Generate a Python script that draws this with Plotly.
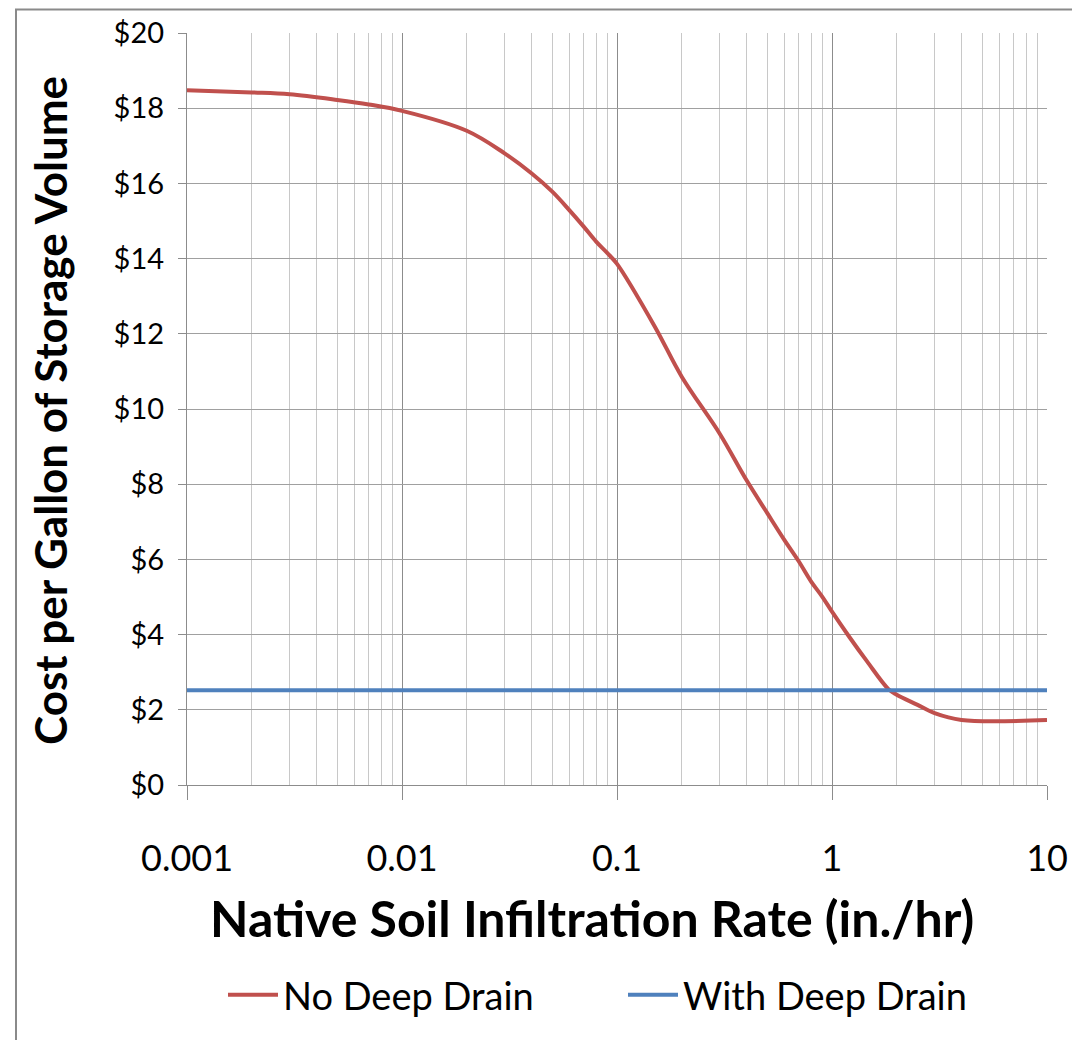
import plotly.graph_objects as go

# Data
infiltration_rate = [0.001, 0.002, 0.003, 0.005, 0.007, 0.01, 0.02, 0.03, 0.04, 0.05, 0.06,
                     0.07, 0.08, 0.09, 0.1, 0.15, 0.2, 0.3, 0.4, 0.5, 0.6, 0.7, 0.8, 0.9, 1.0,
                     1.2, 1.45, 1.83, 2.0, 2.5, 3.0, 4.0, 10.0]
cost_no_deep_drain = [18.48, 18.42, 18.37, 18.22, 18.10, 17.93, 17.40, 16.80, 16.27, 15.78, 15.29,
                      14.85, 14.45, 14.15, 13.86, 12.19, 10.86, 9.35, 8.11, 7.23, 6.52, 5.95, 5.41, 5.01,
                      4.61, 3.95, 3.30, 2.55, 2.40, 2.13, 1.91, 1.73, 1.73]
with_drain_x = [0.001, 10.0]
cost_with_deep_drain = [2.52, 2.52]

x_tick_vals = [0.001, 0.01, 0.1, 1, 10]
x_tick_text = ["0.001", "0.01", "0.1", "1", "10"]
y_tick_vals = [0, 2, 4, 6, 8, 10, 12, 14, 16, 18, 20]
y_tick_text = ["$0", "$2", "$4", "$6", "$8", "$10", "$12", "$14", "$16", "$18", "$20"]

minor_mult = [2, 3, 4, 5, 6, 7, 8, 9]
minor_vals = [d * m for d in [0.001, 0.01, 0.1, 1] for m in minor_mult]

FONT = "Lato"
RED = "#C0504D"
BLUE = "#4F81BD"

# The page body adds an 8px offset; figure is sized so that the visible
# window matches the reference (reference px = figure px + 8).
OFF = 8
W, H = 1080 - OFF, 1040 - OFF
PL, PR, PT, PB = 187, 1047, 33, 785  # plot area in reference pixels


def px_x(p):
    return (p - PL) / (PR - PL)


def px_y(p):
    return (PB - p) / (PB - PT)


fig = go.Figure()
fig.add_trace(go.Scatter(x=infiltration_rate, y=cost_no_deep_drain, mode="lines",
                         name="No Deep Drain",
                         line=dict(color=RED, width=4, shape="spline", smoothing=1.0)))
fig.add_trace(go.Scatter(x=with_drain_x, y=cost_with_deep_drain, mode="lines",
                         name="With Deep Drain", line=dict(color=BLUE, width=4)))

fig.update_layout(
    width=W, height=H,
    margin=dict(l=PL - OFF, r=W - (PR - OFF), t=PT - OFF, b=H - (PB - OFF), autoexpand=False),
    paper_bgcolor="white", plot_bgcolor="white",
    font=dict(family=FONT, color="black"),
    showlegend=True,
    legend=dict(orientation="h", x=px_x(623), xanchor="center", y=px_y(995), yanchor="middle",
                font=dict(family=FONT, size=38), entrywidth=335, entrywidthmode="pixels",
                itemwidth=50, bgcolor="rgba(0,0,0,0)"),
    xaxis=dict(type="log", range=[-3, 1], tickmode="array", tickvals=x_tick_vals, ticktext=x_tick_text,
               showgrid=True, gridcolor="#8c8c8c", gridwidth=1.3,
               ticks="outside", ticklen=14, tickcolor="#8c8c8c", tickwidth=1.3,
               ticklabelstandoff=28,
               tickfont=dict(family=FONT, size=36),
               showline=True, linecolor="#8c8c8c", linewidth=1.3,
               minor=dict(tickmode="array", tickvals=minor_vals, showgrid=True,
                          gridcolor="#c8c8c8", gridwidth=1.3, ticks=""),
               zeroline=False),
    yaxis=dict(range=[0, 20], tickmode="array", tickvals=y_tick_vals, ticktext=y_tick_text,
               showgrid=True, gridcolor="#a0a0a0", gridwidth=1.3,
               ticks="outside", ticklen=8, tickcolor="#8c8c8c", tickwidth=1.3,
               ticklabelstandoff=8,
               tickfont=dict(family=FONT, size=29),
               showline=True, linecolor="#8c8c8c", linewidth=1.3,
               zeroline=False),
)

# Axis titles
fig.add_annotation(text="<b>Native Soil Infiltration Rate (in./hr)</b>", xref="paper", yref="paper",
                   x=px_x(592), y=px_y(918), xanchor="center", yanchor="middle",
                   showarrow=False, font=dict(family=FONT, size=50))
fig.add_annotation(text="<b>Cost per Gallon of Storage Volume</b>", xref="paper", yref="paper",
                   x=px_x(50), y=px_y(411), xanchor="center", yanchor="middle",
                   textangle=-90, showarrow=False, font=dict(family=FONT, size=44))

# Outer chart frame
fig.add_shape(type="rect", xref="paper", yref="paper",
              x0=px_x(16), x1=px_x(1100), y0=px_y(1060), y1=px_y(9.5),
              line=dict(color="#8a8a8a", width=2), layer="below")

fig.write_html("out.html")
